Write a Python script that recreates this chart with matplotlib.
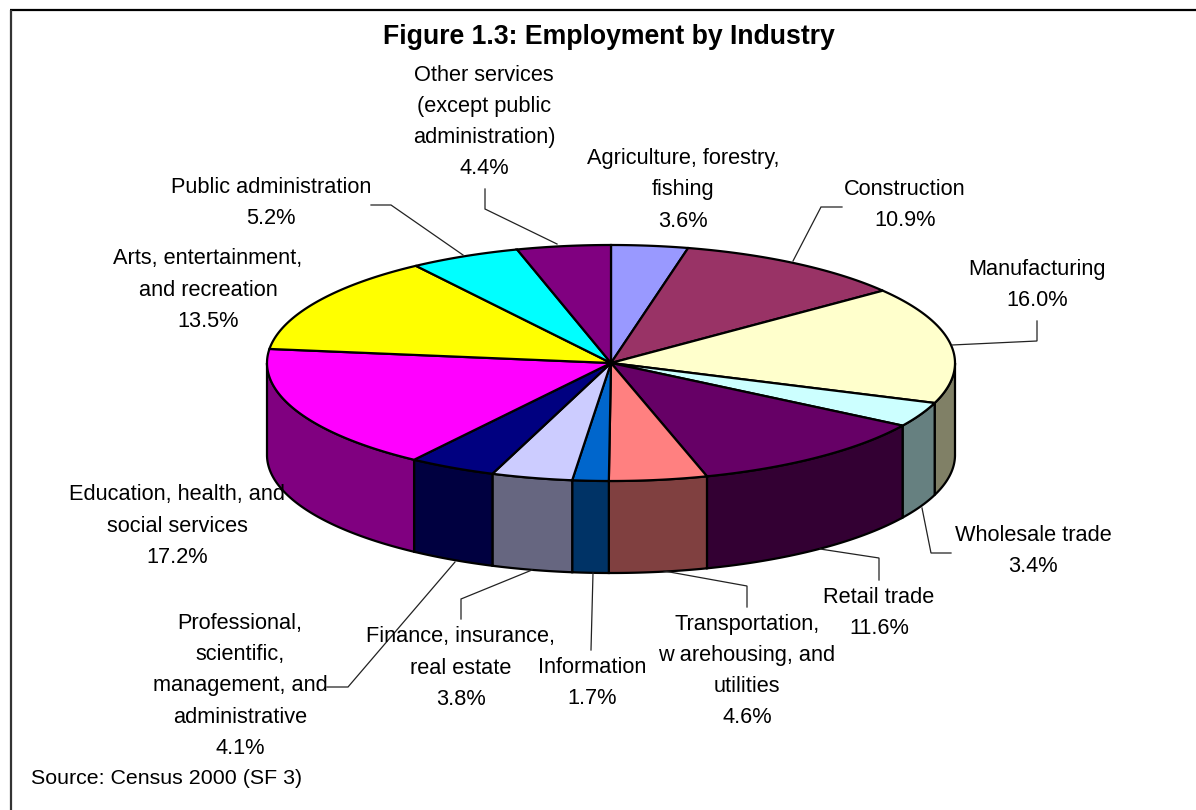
import numpy as np
import matplotlib
matplotlib.use("Agg")
import matplotlib.pyplot as plt
from matplotlib.patches import Polygon

plt.rcParams['font.family'] = ['Liberation Sans', 'DejaVu Sans']

title = "Figure 1.3: Employment by Industry"
source = "Source: Census 2000 (SF 3)"
categories = ["Agriculture, forestry,\nfishing", "Construction", "Manufacturing", "Wholesale trade",
              "Retail trade", "Transportation,\nw arehousing, and\nutilities", "Information",
              "Finance, insurance,\nreal estate", "Professional,\nscientific,\nmanagement, and\nadministrative",
              "Education, health, and\nsocial services", "Arts, entertainment,\nand recreation",
              "Public administration", "Other services\n(except public\nadministration)"]
values = [3.6, 10.9, 16.0, 3.4, 11.6, 4.6, 1.7, 3.8, 4.1, 17.2, 13.5, 5.2, 4.4]
colors = ["#9999FF", "#993366", "#FFFFCC", "#CCFFFF", "#660066", "#FF8080", "#0066CC",
          "#CCCCFF", "#000080", "#FF00FF", "#FFFF00", "#00FFFF", "#800080"]
side_colors = ["#4D4D80", "#4D1A33", "#808066", "#668080", "#330033", "#804040", "#003366",
               "#666680", "#000040", "#800080", "#808000", "#008080", "#400040"]

# label anchor (centre, pixels)
label_pos = [(683, 190), (905, 205), (1037, 285), (1033, 551), (879, 613), (747, 671), (592, 683),
             (461, 668), (240, 686), (177, 526), (208, 290), (271, 203), (484, 122)]
leaders = [None,
           [(842, 207), (821, 207), (793, 261)],
           [(1037, 321), (1037, 341), (952, 345)],
           [(951, 553), (931, 553), (922, 508)],
           [(879, 580), (879, 558), (820, 549)],
           [(747, 607), (747, 586), (664, 571)],
           [(591, 650), (593, 573)],
           [(461, 619), (461, 599), (532, 570)],
           [(327, 687), (348, 687), (455, 562)],
           None, None,
           [(371, 205), (391, 205), (463, 255)],
           [(485, 189), (485, 209), (557, 244)]]

W, H = 1196, 810
CX, CY, RX, RY, DEPTH = 611, 363, 344, 118, 92

fig = plt.figure(figsize=(W / 100, H / 100), dpi=100)
ax = fig.add_axes([0, 0, 1, 1])
ax.set_xlim(0, W)
ax.set_ylim(H, 0)
ax.axis("off")

# frame: only the top and left edges fall inside the picture
ax.plot([10, W], [10, 10], color="black", lw=1.6, zorder=1, solid_capstyle="butt")
ax.plot([10.5, 10.5], [10, H], color="#333333", lw=1.6, zorder=1, solid_capstyle="butt")


def arc(a0, a1, dy=0.0):
    t = np.radians(np.linspace(a0, a1, 120))
    return np.column_stack([CX + RX * np.sin(t), CY + dy - RY * np.cos(t)])


edges = np.concatenate([[0], np.cumsum(values)]) / sum(values) * 360
# side walls: only the front half of the rim is visible
for i, col in enumerate(side_colors):
    a0, a1 = max(edges[i], 90), min(edges[i + 1], 270)
    if a1 <= a0:
        continue
    pts = np.vstack([arc(a0, a1), arc(a0, a1, DEPTH)[::-1]])
    ax.add_patch(Polygon(pts, closed=True, fc=col, ec="black", lw=1.6, zorder=2))
# top faces
for i, col in enumerate(colors):
    pts = np.vstack([[(CX, CY)], arc(edges[i], edges[i + 1])])
    ax.add_patch(Polygon(pts, closed=True, fc=col, ec="black", lw=1.6, zorder=3))

for seg in leaders:
    if seg is not None:
        xs, ys = zip(*seg)
        ax.plot(xs, ys, color="#222222", lw=0.9, zorder=4, solid_joinstyle="miter")

for name, val, (x, y) in zip(categories, values, label_pos):
    ax.text(x, y, f"{name}\n{val:.1f}%", ha="center", va="center", fontsize=15.7,
            linespacing=1.64, color="black", zorder=5)

ax.text(609, 37, title, ha="center", va="center", fontsize=19.2, fontweight="bold", zorder=5)
ax.text(31, 778, source, ha="left", va="center", fontsize=15.4, zorder=5)

fig.savefig("out.png", dpi=100)
